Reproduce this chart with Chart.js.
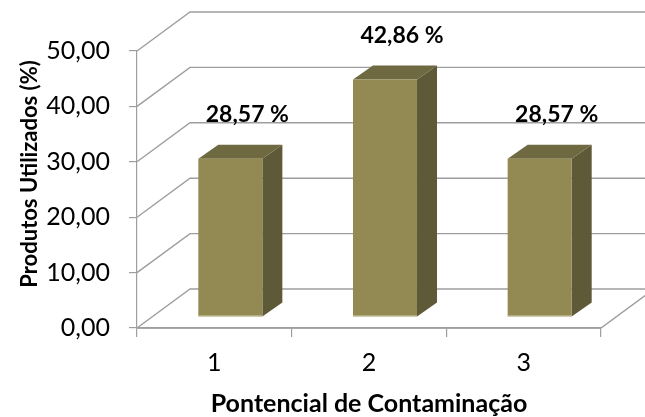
<!DOCTYPE html>
<html>
<head>
<meta charset="utf-8">
<script src="https://cdn.jsdelivr.net/npm/chart.js@4"></script>
<style>
html,body{margin:0;padding:0;background:#fff;}
#wrap{width:645px;height:417px;position:relative;}
</style>
</head>
<body>
<div id="wrap"><canvas id="c" width="645" height="417"></canvas></div>
<script>
// ---- data ----
const categories = ['1', '2', '3'];
const values = [28.57, 42.86, 28.57];
const yTicks = [0, 10, 20, 30, 40, 50];
const yTitle = 'Produtos Utilizados (%)';
const xTitle = 'Pontencial de Contaminação';

const FONT = 'Lato, "Open Sans", sans-serif';
const GRID = '#9e9e9e';
const FRONT = '#938953';
const SIDE = '#5e5937';
const TOP = '#6f6942';
// 3D offsets
const BACK = {dx: 53, dy: -39};     // back wall depth
const FOFF = {dx: 16, dy: -11};     // bar front face depth
const BDEP = {dx: 20, dy: -14};     // bar depth

const fmt = v => v.toFixed(2).replace('.', ',');

const bg = {
  id: 'bg',
  beforeDraw(chart) {
    const ctx = chart.ctx;
    ctx.save(); ctx.fillStyle = '#fff'; ctx.fillRect(0, 0, chart.width, chart.height); ctx.restore();
  }
};

const walls = {
  id: 'walls',
  beforeDatasetsDraw(chart) {
    const ctx = chart.ctx, y = chart.scales.y, x = chart.scales.x;
    const L = x.left, R = x.right, B = y.getPixelForValue(0);
    ctx.save();
    ctx.strokeStyle = GRID; ctx.lineWidth = 1.4;
    yTicks.forEach(v => {
      const py = y.getPixelForValue(v);
      ctx.beginPath();
      ctx.moveTo(L, py);
      ctx.lineTo(L + BACK.dx, py + BACK.dy);
      ctx.lineTo(R + BACK.dx + 20, py + BACK.dy);
      ctx.stroke();
    });
    // floor
    ctx.beginPath();
    ctx.moveTo(L, B); ctx.lineTo(R, B); ctx.lineTo(R + BACK.dx, B + BACK.dy);
    ctx.stroke();
    ctx.restore();
  },
  afterDatasetsDraw(chart) {
    const ctx = chart.ctx;
    const meta = chart.getDatasetMeta(0);
    ctx.save();
    meta.data.forEach((el, i) => {
      const p = el.getProps(['x', 'y', 'base', 'width'], true);
      const l = p.x - p.width / 2 + FOFF.dx, r = p.x + p.width / 2 + FOFF.dx;
      const t = p.y + FOFF.dy, b = p.base + FOFF.dy;
      // side
      ctx.fillStyle = SIDE;
      ctx.beginPath();
      ctx.moveTo(r, t); ctx.lineTo(r + BDEP.dx, t + BDEP.dy);
      ctx.lineTo(r + BDEP.dx, b + BDEP.dy); ctx.lineTo(r, b); ctx.closePath(); ctx.fill();
      // top
      ctx.fillStyle = TOP;
      ctx.beginPath();
      ctx.moveTo(l, t); ctx.lineTo(l + BDEP.dx, t + BDEP.dy);
      ctx.lineTo(r + BDEP.dx, t + BDEP.dy); ctx.lineTo(r, t); ctx.closePath(); ctx.fill();
      // front
      ctx.fillStyle = FRONT;
      ctx.fillRect(l, t, r - l, b - t);
      ctx.strokeStyle = '#c8c2a0'; ctx.lineWidth = 1;
      ctx.beginPath(); ctx.moveTo(l, b - 0.5); ctx.lineTo(r, b - 0.5); ctx.stroke();
      // label
      ctx.fillStyle = '#000';
      ctx.font = 'bold 23px ' + FONT;
      ctx.textAlign = 'center'; ctx.textBaseline = 'middle';
      ctx.fillText(fmt(values[i]) + ' %', p.x + 33, t + BDEP.dy - 30);
    });
    // y title
    ctx.translate(30, 174);
    ctx.rotate(-Math.PI / 2);
    ctx.fillStyle = '#000';
    ctx.font = 'bold 22px ' + FONT;
    ctx.textAlign = 'center'; ctx.textBaseline = 'middle';
    ctx.fillText(yTitle, 0, 0);
    ctx.restore();
  }
};

new Chart(document.getElementById('c'), {
  type: 'bar',
  data: {
    labels: categories,
    datasets: [{
      data: values,
      backgroundColor: 'rgba(0,0,0,0)',
      borderWidth: 0,
      barPercentage: 1,
      categoryPercentage: 0.414
    }]
  },
  options: {
    responsive: false,
    animation: false,
    events: [],
    layout: {padding: {top: 51, right: 44, left: 0, bottom: 0}},
    plugins: {legend: {display: false}, tooltip: {enabled: false}},
    scales: {
      x: {
        grid: {display: true, offset: true, drawOnChartArea: false, drawTicks: true, tickLength: 9, color: GRID, lineWidth: 1.2},
        border: {display: true, color: GRID, width: 1.4},
        ticks: {font: {family: FONT, size: 25}, color: '#000', padding: 11},
        title: {display: true, text: xTitle, font: {family: FONT, size: 25, weight: 'bold'}, color: '#000', padding: {top: 0, bottom: -2}},
        afterFit(s) { s.height = 89; }
      },
      y: {
        min: 0, max: 50,
        afterBuildTicks(s) { s.ticks = yTicks.map(v => ({value: v})); },
        grid: {display: true, drawOnChartArea: false, drawTicks: true, tickLength: 8, color: GRID, lineWidth: 1.2},
        border: {display: true, color: GRID, width: 1.2},
        ticks: {font: {family: FONT, size: 25}, color: '#000', padding: 19, callback: v => fmt(v)},
        afterFit(s) { s.width = 137; }
      }
    }
  },
  plugins: [bg, walls]
});
</script>
</body>
</html>
